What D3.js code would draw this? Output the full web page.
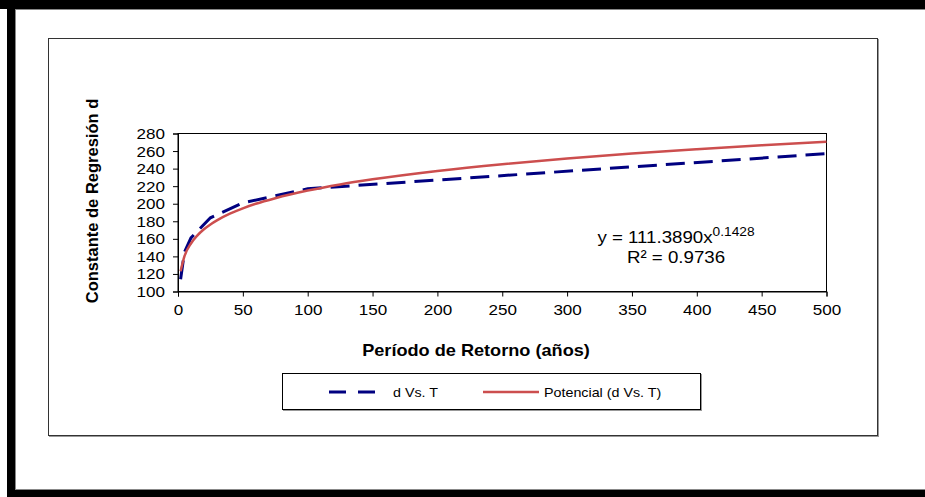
<!DOCTYPE html>
<html>
<head>
<meta charset="utf-8">
<script src="https://cdn.jsdelivr.net/npm/d3@7"></script>
<style>
  html, body { margin: 0; padding: 0; background: #fff; }
  svg { display: block; }
  text { font-family: Arial, "Liberation Sans", sans-serif; fill: #000; }
</style>
</head>
<body>
<div id="chart"></div>
<script>
// ---- data ----
const periods = [2, 5, 10, 25, 50, 100, 500];            // T (años)
const dValues = [114, 145, 161, 184, 201, 217, 257];     // d Vs. T
const trendT = [2, 5, 10, 15, 20, 25, 30, 40, 50, 60, 75, 100, 125, 150, 200, 250, 300, 350, 400, 450, 500];
const trendD = [123.0, 140.2, 154.7, 164.0, 170.9, 176.4, 181.0, 188.6, 194.7, 199.9, 206.3, 215.0, 222.0, 227.8, 237.4, 245.1, 251.5, 257.1, 262.0, 266.5, 270.6];
const xTicks = [0, 50, 100, 150, 200, 250, 300, 350, 400, 450, 500];
const yTicks = [100, 120, 140, 160, 180, 200, 220, 240, 260, 280];
const seriesNames = ["d Vs. T", "Potencial (d Vs. T)"];
const eqMain = "y = 111.3890x";
const eqExp = "0.1428";
const eqR2 = "R² = 0.9736";
const xTitle = "Período de Retorno (años)";
const yTitle = "Constante de Regresión d";

// ---- layout ----
const W = 925, H = 497;
const SX = 1.1; // horizontal text stretch seen in the reference
const plot = { left: 178, right: 826.5, top: 133.5, bottom: 291.5 };
const blue = "#000080", red = "#CC4E4E";

const svg = d3.select("#chart").append("svg").attr("width", W).attr("height", H);
svg.append("rect").attr("width", W).attr("height", H).attr("fill", "#fff");

// outer black frame (top, left, bottom)
svg.append("rect").attr("x", 0).attr("y", 0).attr("width", W).attr("height", 9).attr("fill", "#000");
svg.append("rect").attr("x", 7).attr("y", 0).attr("width", 8).attr("height", H).attr("fill", "#000");
svg.append("rect").attr("x", 7).attr("y", 490).attr("width", W - 7).attr("height", 7).attr("fill", "#000");
svg.append("line").attr("x1", 15).attr("x2", W).attr("y1", 9.5).attr("y2", 9.5).attr("stroke", "#888");
svg.append("line").attr("x1", 15.5).attr("x2", 15.5).attr("y1", 9).attr("y2", 490).attr("stroke", "#888");
svg.append("line").attr("x1", 15).attr("x2", W).attr("y1", 489.5).attr("y2", 489.5).attr("stroke", "#888");

// chart area box
svg.append("rect").attr("x", 49.5).attr("y", 39.5).attr("width", 829).attr("height", 397)
  .attr("fill", "none").attr("stroke", "#999");
svg.append("rect").attr("x", 48.5).attr("y", 38.5).attr("width", 829).attr("height", 397)
  .attr("fill", "#fff").attr("stroke", "#333");

// scales
const x = d3.scaleLinear().domain([0, 500]).range([plot.left, plot.right]);
const y = d3.scaleLinear().domain([100, 280]).range([plot.bottom, plot.top]);

// plot border
svg.append("rect").attr("x", plot.left).attr("y", plot.top)
  .attr("width", plot.right - plot.left).attr("height", plot.bottom - plot.top)
  .attr("fill", "none").attr("stroke", "#000").attr("stroke-width", 1);

// axes
const yAxis = svg.append("g").attr("transform", `translate(${plot.left},0)`)
  .call(d3.axisLeft(y).tickValues(yTicks).tickSize(5).tickPadding(5).tickFormat(d3.format("d")));
const xAxis = svg.append("g").attr("transform", `translate(0,${plot.bottom})`)
  .call(d3.axisBottom(x).tickValues(xTicks).tickSize(5).tickPadding(6).tickFormat(d3.format("d")));
[yAxis, xAxis].forEach(g => {
  g.select(".domain").attr("stroke", "#000");
  g.selectAll(".tick line").attr("stroke", "#000");
  g.selectAll(".tick text").style("font-size", "15.5px").attr("fill", "#111")
    .style("font-family", "Arial, 'Liberation Sans', sans-serif");
});
yAxis.selectAll(".tick text").attr("x", -13 / SX).attr("transform", `scale(${SX},1)`);
xAxis.selectAll(".tick text").attr("transform", `scale(${SX},1)`).attr("dy", "0.78em");

// series
const lineBlue = d3.line().x((d, i) => x(periods[i])).y(d => y(d));
svg.append("path").datum(dValues).attr("d", lineBlue)
  .attr("fill", "none").attr("stroke", blue).attr("stroke-width", 3)
  .attr("stroke-dasharray", "19,9");

const lineRed = d3.line().x((d, i) => x(trendT[i])).y(d => y(d)).curve(d3.curveMonotoneX);
svg.append("path").datum(trendD).attr("d", lineRed)
  .attr("fill", "none").attr("stroke", red).attr("stroke-width", 2.5);

// stretched text helper
function stext(g, tx, ty, str, size, opts = {}) {
  const t = g.append("text")
    .attr("transform", `translate(${tx},${ty}) scale(${opts.sx || SX},1)`)
    .attr("text-anchor", opts.anchor || "middle")
    .style("font-size", size + "px")
    .style("font-weight", opts.bold ? "bold" : "normal")
    .text(str);
  return t;
}

// equation
const eq = svg.append("text")
  .attr("transform", `translate(676,243) scale(${SX},1)`)
  .attr("text-anchor", "middle").style("font-size", "17px");
eq.append("tspan").text(eqMain);
eq.append("tspan").attr("dy", -7).style("font-size", "12.5px").text(eqExp);
stext(svg, 676, 263, eqR2, 17);

// axis titles
stext(svg, 476, 356, xTitle, 16.5, { bold: true });
svg.append("text")
  .attr("transform", `translate(98,201) rotate(-90)`)
  .attr("text-anchor", "middle").style("font-size", "16.5px").style("font-weight", "bold")
  .text(yTitle);

// legend
svg.append("rect").attr("x", 283.5).attr("y", 374.5).attr("width", 418).attr("height", 36)
  .attr("fill", "none").attr("stroke", "#999");
svg.append("rect").attr("x", 282.5).attr("y", 373.5).attr("width", 418).attr("height", 36)
  .attr("fill", "#fff").attr("stroke", "#000");
const ly = 392;
svg.append("line").attr("x1", 329).attr("x2", 380).attr("y1", ly).attr("y2", ly)
  .attr("stroke", blue).attr("stroke-width", 3).attr("stroke-dasharray", "17,12");
stext(svg, 393, ly + 4.5, seriesNames[0], 13, { anchor: "start" });
svg.append("line").attr("x1", 483).attr("x2", 539).attr("y1", ly).attr("y2", ly)
  .attr("stroke", red).attr("stroke-width", 2.5);
stext(svg, 544, ly + 4.5, seriesNames[1], 13, { anchor: "start" });
</script>
</body>
</html>
